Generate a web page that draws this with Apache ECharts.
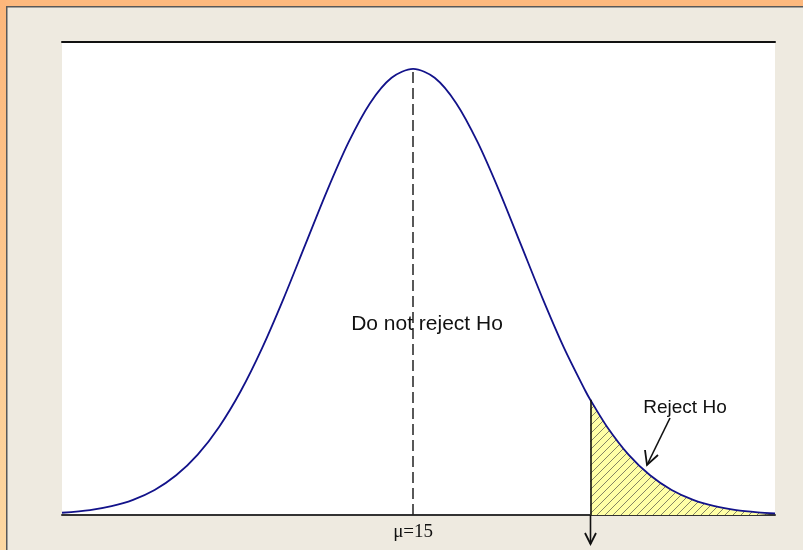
<!DOCTYPE html>
<html>
<head>
<meta charset="utf-8">
<script src="https://cdn.jsdelivr.net/npm/echarts@6/dist/echarts.min.js"></script>
<style>
  html, body { margin: 0; padding: 0; background: #EEEAE0; }
  #chart { width: 803px; height: 550px; }
</style>
</head>
<body>
<div id="chart"></div>
<script>
// Sampling distribution, mean 15, one-tailed test on the right.
const MEAN = 15;
const CRITICAL = 16.645;

// Density curve: x positions and heights.
const curveX = [11.74, 12.0, 12.2, 12.4, 12.6, 12.8, 13.0, 13.2, 13.4, 13.6, 13.8,
  14.0, 14.2, 14.4, 14.6, 14.8, 15.0, 15.2, 15.4, 15.6, 15.8, 16.0, 16.2, 16.4,
  16.6, 16.645, 16.8, 17.0, 17.2, 17.4, 17.6, 17.8, 18.0, 18.2, 18.36];
const curveY = [0.002, 0.0044, 0.0079, 0.0136, 0.0224, 0.0355, 0.054, 0.079, 0.1109,
  0.1497, 0.1942, 0.242, 0.2897, 0.3332, 0.3683, 0.391, 0.3989, 0.391, 0.3683, 0.3332,
  0.2897, 0.242, 0.1942, 0.1497, 0.1109, 0.1031, 0.079, 0.054, 0.0355, 0.0224, 0.0136,
  0.0079, 0.0044, 0.0024, 0.0014];

const meanLabel = 'μ=15';
const acceptText = 'Do not reject Ho';
const rejectText = 'Reject Ho';

const curveData = curveX.map((x, i) => [x, curveY[i]]);
const tailData = curveData.filter(p => p[0] >= CRITICAL);
const peak = curveY[curveX.indexOf(MEAN)];
const critHeight = curveY[curveX.indexOf(CRITICAL)];

// Yellow fill with diagonal hatching for the rejection region.
function hatchPattern() {
  const c = document.createElement('canvas');
  c.width = 8; c.height = 8;
  const g = c.getContext('2d');
  g.fillStyle = '#FFFFA6';
  g.fillRect(0, 0, 8, 8);
  g.strokeStyle = '#77775c';
  g.lineWidth = 0.9;
  g.beginPath();
  g.moveTo(0, 8); g.lineTo(8, 0);
  g.moveTo(-2, 2); g.lineTo(2, -2);
  g.moveTo(6, 10); g.lineTo(10, 6);
  g.stroke();
  return c;
}

const chart = echarts.init(document.getElementById('chart'), null, { renderer: 'canvas' });

const option = {
  backgroundColor: '#EEEAE0',
  animation: false,
  grid: { left: 62, right: 28, top: 42, bottom: 35, show: true, backgroundColor: '#ffffff', borderWidth: 0 },
  xAxis: [{
    type: 'value', min: 11.74, max: 18.36,
    axisLine: { show: true, lineStyle: { color: '#333333', width: 2 } },
    axisTick: { show: false },
    splitLine: { show: false },
    axisLabel: {
      customValues: [MEAN],
      formatter: () => meanLabel,
      fontFamily: 'Liberation Serif', fontSize: 19, color: '#111', margin: 8
    }
  }, {
    type: 'value', position: 'top', min: 11.74, max: 18.36,
    axisLine: { show: true, onZero: false, lineStyle: { color: '#111111', width: 2 } },
    axisTick: { show: false }, axisLabel: { show: false }, splitLine: { show: false }
  }],
  yAxis: {
    type: 'value', min: 0, max: 0.423, show: false
  },
  series: [{
    name: 'tail',
    type: 'line',
    data: tailData,
    smooth: 0.3,
    symbol: 'none',
    lineStyle: { width: 0 },
    areaStyle: { color: { image: hatchPattern(), repeat: 'repeat' }, opacity: 1 },
    z: 2
  }, {
    name: 'density',
    type: 'line',
    data: curveData,
    smooth: 0.3,
    symbol: 'none',
    lineStyle: { color: '#12128a', width: 1.8 },
    z: 3,
    markLine: {
      silent: true,
      symbol: ['none', 'none'],
      label: { show: false },
      data: [
        [{ coord: [MEAN, 0], lineStyle: { color: '#222', width: 1.5, type: [11, 5] } },
         { coord: [MEAN, peak] }],
        [{ coord: [CRITICAL, 0], lineStyle: { color: '#111', width: 1.6, type: 'solid' } },
         { coord: [CRITICAL, critHeight] }]
      ]
    }
  }]
};
chart.setOption(option);

// Frame and annotations.
const base = chart.convertToPixel({ xAxisIndex: 0, yAxisIndex: 0 }, [CRITICAL, 0]);
const cx = Math.round(base[0]) + 0.5;
const by = base[1];

chart.setOption({
  graphic: [
    { type: 'rect', shape: { x: 0, y: 0, width: 803, height: 6 }, style: { fill: '#FDB97E' }, z: 100 },
    { type: 'rect', shape: { x: 0, y: 0, width: 6, height: 550 },
      style: { fill: new echarts.graphic.LinearGradient(0, 0, 0, 1, [
        { offset: 0, color: '#FDB77B' }, { offset: 1, color: '#FDD8A2' }]) }, z: 100 },
    { type: 'rect', shape: { x: 6, y: 6, width: 797, height: 1.5 }, style: { fill: '#585858' }, z: 101 },
    { type: 'rect', shape: { x: 6, y: 6, width: 1.5, height: 544 }, style: { fill: '#585858' }, z: 101 },

    { type: 'text', x: 427, y: 324, z: 50,
      style: { text: acceptText, font: '21px "Liberation Sans", Arial, sans-serif', fill: '#111',
               align: 'center', verticalAlign: 'middle' } },
    { type: 'text', x: 685, y: 408, z: 50,
      style: { text: rejectText, font: '19px "Liberation Sans", Arial, sans-serif', fill: '#111',
               align: 'center', verticalAlign: 'middle' } },
    // pointer to the shaded tail
    { type: 'polyline', z: 50, shape: { points: [[670, 418], [647, 465]] },
      style: { stroke: '#111', lineWidth: 1.6, fill: null } },
    { type: 'polyline', z: 50, shape: { points: [[645, 450], [647, 465], [658, 455]] },
      style: { stroke: '#111', lineWidth: 1.8, fill: null } },
    // critical value marker below the axis
    { type: 'polyline', z: 50, shape: { points: [[cx, by], [cx, by + 29]] },
      style: { stroke: '#111', lineWidth: 1.6, fill: null } },
    { type: 'polyline', z: 50, shape: { points: [[cx - 5.5, by + 18], [cx, by + 29], [cx + 5.5, by + 18]] },
      style: { stroke: '#111', lineWidth: 1.8, fill: null } }
  ]
});
</script>
</body>
</html>
